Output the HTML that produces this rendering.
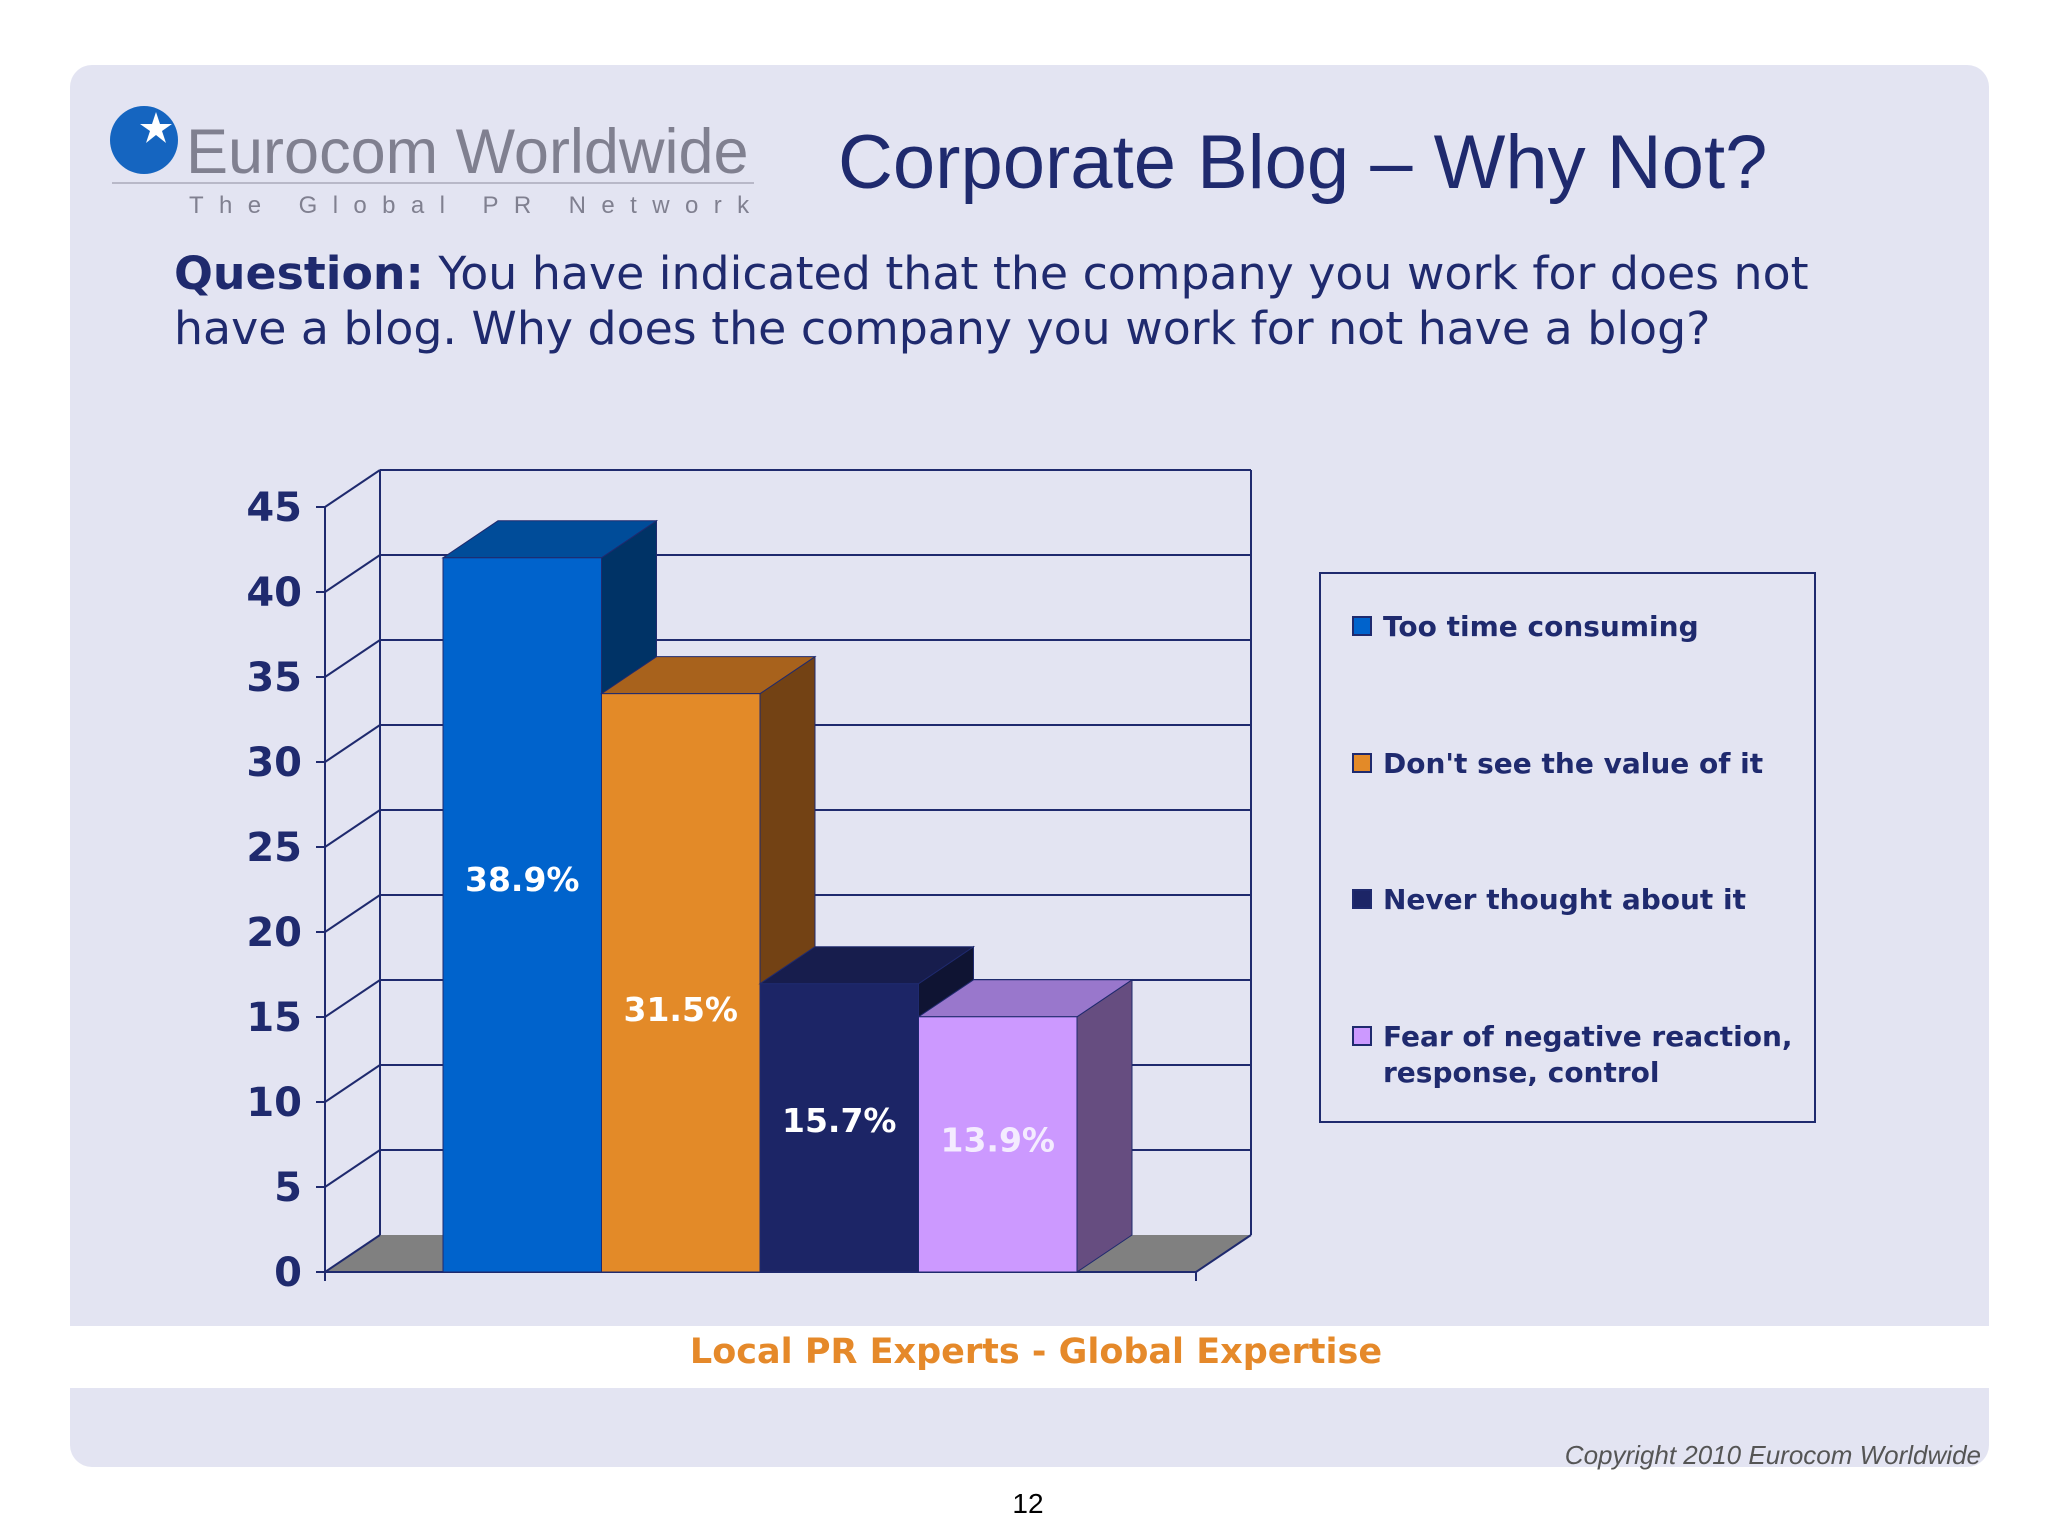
<!DOCTYPE html>
<html><head><meta charset="utf-8"><style>
body{margin:0;width:2048px;height:1536px;background:#fff;overflow:hidden;position:relative;font-family:"Liberation Sans",sans-serif}
.abs{position:absolute;white-space:nowrap}
</style></head><body>
<div class="abs" style="left:70px;top:65px;width:1919px;height:1402px;background:#e3e4f2;border-radius:22px"></div>
<div class="abs" style="left:70px;top:1326px;width:1919px;height:62px;background:#fff"></div>
<div class="abs" style="left:0;width:2072px;text-align:center;top:1332px;font:bold 35px 'DejaVu Sans',sans-serif;color:#e5892a">Local PR Experts - Global Expertise</div>
<svg class="abs" style="left:108px;top:104px" width="76" height="76"><circle cx="36" cy="36" r="34" fill="#1565c0"/><polygon points="48,8 52,20 64,20 54,27 58,39 48,31 38,39 42,27 32,20 44,20" fill="#fff"/></svg>
<div class="abs" style="left:186px;top:116px;font-size:63px;color:#808090">Eurocom Worldwide</div>
<div class="abs" style="left:112px;top:182px;width:642px;height:2px;background:#b8b8c8"></div>
<div class="abs" style="left:189px;top:192px;font-size:24px;letter-spacing:15.4px;color:#808090">The Global PR Network</div>
<div class="abs" style="left:838px;top:119px;font-size:76px;color:#1f2a6e">Corporate Blog – Why Not?</div>
<div class="abs" style="left:174px;top:246px;font:45.8px/55px 'DejaVu Sans',sans-serif;color:#1f2a6e"><b>Question:</b> You have indicated that the company you work for does not<br>have a blog. Why does the company you work for not have a blog?</div>
<svg id="chart" class="abs" style="left:0;top:0" width="2048" height="1536"></svg>
<div class="abs" style="left:1319px;top:572px;width:493px;height:547px;border:2px solid #1f2a6e"></div>
<div class="abs" style="right:67px;top:1440px;font-style:italic;font-size:26px;color:#555">Copyright 2010 Eurocom Worldwide</div>
<div class="abs" style="left:0;width:2056px;text-align:center;top:1488px;font-size:28px;color:#000">12</div>
<script>
const categories=["Too time consuming","Don't see the value of it","Never thought about it","Fear of negative reaction, response, control"];
const values=[38.9,31.5,15.7,13.9];
const valueLabels=["38.9%","31.5%","15.7%","13.9%"];
const tickLabels=[0,5,10,15,20,25,30,35,40,45];
const fronts=["#0063cc","#e38a28","#1c2566","#cc99ff"];
const tops=["#004c99","#a8621c","#171d4d","#9977cc"];
const sides=["#003366","#734214","#0f1433","#664d80"];
const labelColors=["#fff","#fff","#fff","#f4ecff"];
const labelFrac=[0.55,0.455,0.527,0.52];
const NS="http://www.w3.org/2000/svg",svg=document.getElementById('chart');
const X0=325,X1=1196,Y0=1272,DX=55,DY=-37,K=765/45,BK=K*1.08;
const yF=v=>Y0-v*K, yB=v=>Y0+DY-v*K, yBar=v=>Y0-v*BK;
function el(t,a,p){const e=document.createElementNS(NS,t);for(const k in a)e.setAttribute(k,a[k]);(p||svg).appendChild(e);return e;}
const gridG=el('g',{});


el('polygon',{points:`${X0},${Y0} ${X1},${Y0} ${X1+DX},${Y0+DY} ${X0+DX},${Y0+DY}`,fill:'#808080'},gridG);
tickLabels.forEach(v=>{
 if(v>0){el('line',{x1:X0+DX,y1:yB(v),x2:X1+DX,y2:yB(v),stroke:'#1f2a6e','stroke-width':2},gridG);}
 el('line',{x1:X0,y1:yF(v),x2:X0+DX,y2:yB(v),stroke:'#1f2a6e','stroke-width':2},gridG);
 el('line',{x1:X0-9,y1:yF(v),x2:X0,y2:yF(v),stroke:'#1f2a6e','stroke-width':2},gridG);
 const t=el('text',{x:302,y:yF(v)+14,'text-anchor':'end','font-family':'DejaVu Sans, sans-serif','font-weight':'bold','font-size':40,fill:'#1f2a6e'});
 t.textContent=v;
 
 
});
el('line',{x1:X0+DX,y1:yB(45),x2:X1+DX,y2:yB(45),stroke:'#1f2a6e','stroke-width':2},gridG);
el('line',{x1:X0+DX,y1:yB(45),x2:X0+DX,y2:yB(0),stroke:'#1f2a6e','stroke-width':2},gridG);
el('line',{x1:X1+DX,y1:yB(45),x2:X1+DX,y2:yB(0),stroke:'#1f2a6e','stroke-width':2},gridG);
el('line',{x1:X0,y1:yF(45),x2:X0,y2:Y0,stroke:'#1f2a6e','stroke-width':2},gridG);
el('line',{x1:X1,y1:Y0,x2:X1+DX,y2:Y0+DY,stroke:'#1f2a6e','stroke-width':2},gridG);
el('line',{x1:X0,y1:Y0,x2:X1,y2:Y0,stroke:'#1f2a6e','stroke-width':2},gridG);
el('line',{x1:X0,y1:Y0,x2:X0,y2:Y0+9,stroke:'#1f2a6e','stroke-width':2},gridG);
el('line',{x1:X1,y1:Y0,x2:X1,y2:Y0+9,stroke:'#1f2a6e','stroke-width':2},gridG);
const BX=443,BW=158.5;
values.forEach((v,i)=>{
 const g=el('g',{});
 
 
 const x=BX+i*BW,y=yBar(v),x2=x+BW;
 el('polygon',{points:`${x2},${y} ${x2+DX},${y+DY} ${x2+DX},${Y0+DY} ${x2},${Y0}`,fill:sides[i],stroke:'#1f2a6e','stroke-width':1},g);
 el('polygon',{points:`${x},${y} ${x+DX},${y+DY} ${x2+DX},${y+DY} ${x2},${y}`,fill:tops[i],stroke:'#1f2a6e','stroke-width':1},g);
 el('rect',{x:x,y:y,width:BW,height:Y0-y,fill:fronts[i],stroke:'#1f2a6e','stroke-width':1},g);
 const t=el('text',{x:x+BW/2,y:Y0-(Y0-y)*labelFrac[i]+12,'text-anchor':'middle','font-family':'DejaVu Sans, sans-serif','font-weight':'bold','font-size':33,fill:labelColors[i]},g);
 t.textContent=valueLabels[i];
 
 
});
const legY=[626,763,899,1036];
categories.forEach((c,i)=>{
 const g=el('g',{});
 
 
 el('rect',{x:1353,y:legY[i]-9,width:18,height:18,fill:fronts[i],stroke:'#1f2a6e','stroke-width':2},g);
 const parts=i==3?["Fear of negative reaction,","response, control"]:[c];
 parts.forEach((p,j)=>{
  const t=el('text',{x:1383,y:legY[i]+10+j*36,'font-family':'DejaVu Sans, sans-serif','font-weight':'bold','font-size':28,fill:'#1f2a6e'},g);
  t.textContent=p;
 });
});
</script>
</body></html>
